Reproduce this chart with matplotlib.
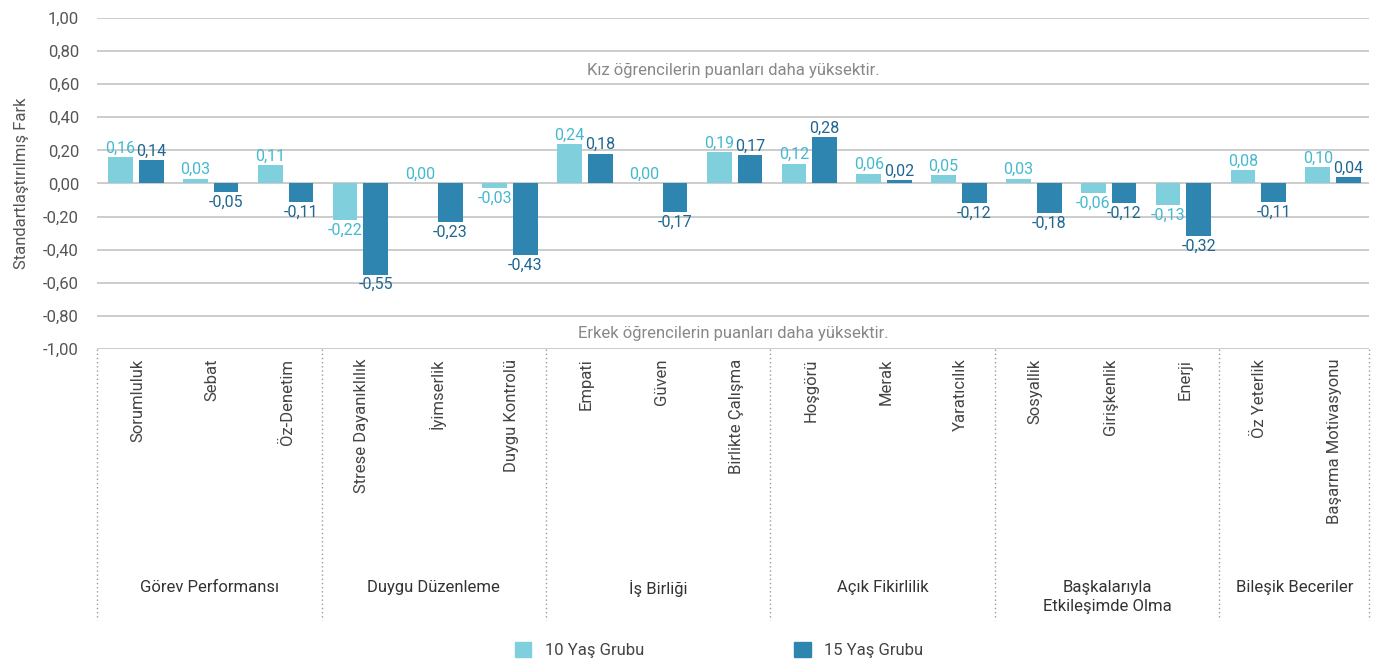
import numpy as np
import matplotlib.pyplot as plt
import matplotlib.transforms as mtransforms
from matplotlib.patches import Patch

plt.rcParams['font.family'] = ['Roboto', 'DejaVu Sans']

# Veriler
beceriler = ['Sorumluluk', 'Sebat', 'Öz-Denetim',
             'Strese Dayanıklılık', 'İyimserlik', 'Duygu Kontrolü',
             'Empati', 'Güven', 'Birlikte Çalışma',
             'Hoşgörü', 'Merak', 'Yaratıcılık',
             'Sosyallik', 'Girişkenlik', 'Enerji',
             'Öz Yeterlik', 'Başarma Motivasyonu']
yas10 = [0.16, 0.03, 0.11, -0.22, 0.00, -0.03, 0.24, 0.00, 0.19,
         0.12, 0.06, 0.05, 0.03, -0.06, -0.13, 0.08, 0.10]
yas15 = [0.14, -0.05, -0.11, -0.55, -0.23, -0.43, 0.18, -0.17, 0.17,
         0.28, 0.02, -0.12, -0.18, -0.12, -0.32, -0.11, 0.04]
gruplar = ['Görev Performansı', 'Duygu Düzenleme', 'İş Birliği',
           'Açık Fikirlilik', 'Başkalarıyla\nEtkileşimde Olma', 'Bileşik Beceriler']
grup_boyut = [3, 3, 3, 3, 3, 2]
y_ticks = [1.0, 0.8, 0.6, 0.4, 0.2, 0.0, -0.2, -0.4, -0.6, -0.8, -1.0]

renk10 = '#7fd0dc'
renk15 = '#2e85b0'
yazi10 = '#45b9cf'
yazi15 = '#1f6792'
gri = '#555555'

def virgul(v):
    return f'{v:.2f}'.replace('.', ',')

fig = plt.figure(figsize=(13.77, 6.63), dpi=100)
ax = fig.add_axes([0.0705, 0.4736, 0.9237, 0.4993])

x = np.arange(len(beceriler))
w = 0.33
b1 = ax.bar(x - 0.185, yas10, w, color=renk10, zorder=3)
b2 = ax.bar(x + 0.225, yas15, w, color=renk15, zorder=3)

for bars, vals, renk in [(b1, yas10, yazi10), (b2, yas15, yazi15)]:
    for rect, v in zip(bars, vals):
        cx = rect.get_x() + rect.get_width() / 2
        if v >= 0:
            ax.annotate(virgul(v), (cx, v), xytext=(0, 1), textcoords='offset points',
                        ha='center', va='bottom', color=renk, fontsize=11.5)
        else:
            ax.annotate(virgul(v), (cx, v), xytext=(0, -2), textcoords='offset points',
                        ha='center', va='top', color=renk, fontsize=11.5)

ax.set_xlim(-0.5, len(beceriler) - 0.5)
ax.set_ylim(-1.0, 1.0)
ax.set_yticks(y_ticks)
ax.set_yticklabels([virgul(t) for t in y_ticks], fontsize=12, color=gri)
ax.grid(axis='y', color='#c4c4c4', linewidth=1.2, zorder=0)
ax.tick_params(axis='y', length=0, pad=13)
ax.tick_params(axis='x', length=0, pad=7)
ax.set_xticks(x + 0.04)
ax.set_xticklabels(beceriler, rotation=90, fontsize=12, color='#444444', va='top')
for s in ax.spines.values():
    s.set_visible(False)
ax.set_ylabel('Standartlaştırılmış Fark', fontsize=12, color=gri, labelpad=10)

ax.text(0.5, 0.68, 'Kız öğrencilerin puanları daha yüksektir.', transform=ax.get_yaxis_transform(),
        ha='center', va='center', fontsize=12, color='#888888')
ax.text(0.5, -0.905, 'Erkek öğrencilerin puanları daha yüksektir.', transform=ax.get_yaxis_transform(),
        ha='center', va='center', fontsize=12, color='#888888')

# Grup ayırıcıları ve grup adları
trans = mtransforms.blended_transform_factory(ax.transData, ax.transAxes)
sinirlar = np.concatenate([[0], np.cumsum(grup_boyut)]) - 0.5
for s in sinirlar:
    ax.plot([s, s], [0, -0.82], transform=trans, clip_on=False,
            color='#999999', linestyle=(0, (1, 2)), linewidth=1)
for i, g in enumerate(gruplar):
    orta = (sinirlar[i] + sinirlar[i + 1]) / 2
    ax.text(orta, -0.698, g, transform=trans, ha='center', va='top',
            fontsize=12, color='#333333', linespacing=1.3)

eller = [Patch(color=renk10, label='10 Yaş Grubu'),
         Patch(color=renk15, label='15 Yaş Grubu')]
fig.legend(handles=eller, loc='center', bbox_to_anchor=(0.522, 0.02), ncol=2,
           frameon=False, fontsize=12, handlelength=1.0, handleheight=1.0,
           columnspacing=9, handletextpad=0.8, labelcolor='#444444')

fig.savefig('out.png', dpi=100)
